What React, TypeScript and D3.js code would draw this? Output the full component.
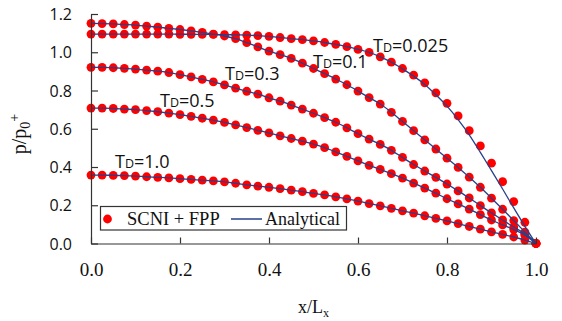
import React, { useEffect, useRef } from 'react';
import * as d3 from 'd3';

// x/Lx sample positions (every 0.025)
const xPos = [0, 0.025, 0.05, 0.075, 0.1, 0.125, 0.15, 0.175, 0.2, 0.225, 0.25, 0.275, 0.3, 0.325, 0.35, 0.375, 0.4, 0.425, 0.45, 0.475, 0.5, 0.525, 0.55, 0.575, 0.6, 0.625, 0.65, 0.675, 0.7, 0.725, 0.75, 0.775, 0.8, 0.825, 0.85, 0.875, 0.9, 0.925, 0.95, 0.975, 1.0];

// SCNI + FPP points, p/p0+
const td0025 = [1.095, 1.095, 1.095, 1.095, 1.095, 1.095, 1.095, 1.095, 1.094, 1.094, 1.093, 1.093, 1.092, 1.091, 1.090, 1.087, 1.083, 1.077, 1.071, 1.066, 1.059, 1.051, 1.041, 1.029, 1.015, 0.999, 0.976, 0.948, 0.915, 0.880, 0.840, 0.788, 0.733, 0.667, 0.590, 0.510, 0.420, 0.323, 0.219, 0.111, 0];
const td01 = [1.151, 1.150, 1.148, 1.145, 1.142, 1.137, 1.131, 1.125, 1.119, 1.112, 1.104, 1.095, 1.085, 1.071, 1.050, 1.028, 1.006, 0.988, 0.968, 0.943, 0.915, 0.888, 0.860, 0.830, 0.797, 0.763, 0.729, 0.686, 0.638, 0.590, 0.542, 0.494, 0.446, 0.398, 0.347, 0.294, 0.237, 0.179, 0.120, 0.060, 0];
const td03 = [0.921, 0.921, 0.919, 0.916, 0.912, 0.907, 0.901, 0.894, 0.883, 0.871, 0.858, 0.845, 0.829, 0.812, 0.796, 0.781, 0.762, 0.744, 0.724, 0.703, 0.681, 0.658, 0.634, 0.605, 0.574, 0.546, 0.518, 0.487, 0.450, 0.413, 0.379, 0.346, 0.311, 0.275, 0.238, 0.198, 0.160, 0.123, 0.086, 0.050, 0];
const td05 = [0.708, 0.708, 0.706, 0.703, 0.700, 0.695, 0.689, 0.682, 0.674, 0.665, 0.655, 0.645, 0.633, 0.620, 0.606, 0.592, 0.578, 0.563, 0.549, 0.535, 0.520, 0.501, 0.479, 0.456, 0.432, 0.409, 0.387, 0.365, 0.342, 0.316, 0.290, 0.263, 0.234, 0.207, 0.180, 0.151, 0.123, 0.097, 0.073, 0.044, 0];
const td1 = [0.358, 0.358, 0.356, 0.355, 0.352, 0.349, 0.346, 0.343, 0.339, 0.335, 0.331, 0.327, 0.322, 0.315, 0.307, 0.300, 0.294, 0.287, 0.279, 0.271, 0.262, 0.254, 0.244, 0.233, 0.222, 0.209, 0.197, 0.184, 0.171, 0.159, 0.145, 0.131, 0.118, 0.104, 0.089, 0.075, 0.061, 0.048, 0.034, 0.018, 0];

// analytical curve for TD=0.025 sits a little left of the points near the drained edge
const analytic0025 = [1.095, 1.095, 1.095, 1.095, 1.095, 1.095, 1.095, 1.095, 1.094, 1.094, 1.093, 1.093, 1.092, 1.091, 1.090, 1.087, 1.083, 1.077, 1.071, 1.066, 1.059, 1.051, 1.041, 1.029, 1.015, 0.999, 0.976, 0.948, 0.913, 0.875, 0.832, 0.778, 0.718, 0.648, 0.568, 0.476, 0.381, 0.285, 0.186, 0.090, 0];

const xTicks = [0, 0.2, 0.4, 0.6, 0.8, 1.0];
const yTicks = [0, 0.2, 0.4, 0.6, 0.8, 1.0, 1.2];

const curveLabels = ['0.025', '0.1', '0.3', '0.5', '1.0'];

const W = 562;
const H = 321;

const App: React.FC = () => {
  const svgRef = useRef<SVGSVGElement>(null);

  useEffect(() => {
    if (!svgRef.current) return;
    const svg = d3.select(svgRef.current);
    svg.selectAll('*').remove();

    const xScale = d3.scaleLinear().domain([0, 1]).range([91, 536]);
    const yScale = d3.scaleLinear().domain([0, 1.2]).range([243.5, 14]);

    const points = [td0025, td01, td03, td05, td1];
    const lines = [analytic0025, td01, td03, td05, td1];

    // SCNI + FPP dots
    points.forEach((vals) => {
      svg.append('g')
        .selectAll('circle')
        .data(vals)
        .enter()
        .append('circle')
        .attr('cx', (_, i) => xScale(xPos[i]))
        .attr('cy', d => yScale(d))
        .attr('r', 4.4)
        .attr('fill', '#ff0000');
    });

    // Analytical lines
    const line = d3.line<number>()
      .x((_, i) => xScale(xPos[i]))
      .y(d => yScale(d))
      .curve(d3.curveMonotoneX);

    lines.forEach((vals) => {
      svg.append('path')
        .datum(vals)
        .attr('fill', 'none')
        .attr('stroke', '#26408b')
        .attr('stroke-width', 1.3)
        .attr('d', line);
    });

    // Axes
    const xAxis = svg.append('g')
      .attr('transform', 'translate(0, 243.5)')
      .call(d3.axisBottom(xScale).tickValues(xTicks).tickFormat(d3.format('.1f')).tickSizeInner(-6).tickSizeOuter(0));
    xAxis.select('.domain').attr('stroke', '#333').attr('stroke-width', 1.2);
    xAxis.selectAll('.tick line').attr('stroke', '#333').attr('stroke-width', 1.2);
    xAxis.selectAll('.tick text')
      .attr('y', 32)
      .attr('dy', 0)
      .attr('fill', '#111')
      .style('font-family', '"Liberation Serif", serif')
      .style('font-size', '19px');

    const yAxis = svg.append('g')
      .attr('transform', 'translate(91, 0)')
      .call(d3.axisLeft(yScale).tickValues(yTicks).tickFormat(d3.format('.1f')).tickSizeInner(-7).tickSizeOuter(0));
    yAxis.select('.domain').attr('stroke', '#333').attr('stroke-width', 1.2);
    yAxis.selectAll('.tick line').attr('stroke', '#333').attr('stroke-width', 1.2);
    yAxis.selectAll('.tick text')
      .attr('x', -19)
      .attr('dy', '0.35em')
      .attr('fill', '#111')
      .style('font-family', '"Open Sans", sans-serif')
      .style('font-size', '16px');

    // Axis titles
    const xt = svg.append('text')
      .attr('x', 298)
      .attr('y', 313)
      .attr('fill', '#111')
      .style('font-family', '"Liberation Serif", serif')
      .style('font-size', '18px');
    xt.append('tspan').text('x/L');
    xt.append('tspan').attr('dy', 4).style('font-size', '12px').text('x');

    const yt = svg.append('text')
      .attr('transform', 'translate(26, 134) rotate(-90)')
      .attr('text-anchor', 'middle')
      .attr('fill', '#111')
      .style('font-family', '"Liberation Serif", serif')
      .style('font-size', '20px');
    yt.append('tspan').text('p/p');
    yt.append('tspan').attr('dy', 4).style('font-size', '14px').text('0');
    yt.append('tspan').attr('dy', -11).style('font-size', '14px').text('+');

    // T_D labels
    const labelPos = [[373, 52], [313, 68], [225, 80], [160, 106.5], [115, 168]];
    curveLabels.forEach((lab, i) => {
      const t = svg.append('text')
        .attr('x', labelPos[i][0])
        .attr('y', labelPos[i][1])
        .attr('fill', '#111')
        .style('font-family', '"Open Sans", sans-serif')
        .style('font-size', '18px');
      t.append('tspan').text('T');
      t.append('tspan').style('font-size', '12.5px').text('D');
      t.append('tspan').text('=' + lab);
    });

    // Legend
    const legend = svg.append('g');
    legend.append('rect')
      .attr('x', 100.5)
      .attr('y', 206.5)
      .attr('width', 246)
      .attr('height', 23.5)
      .attr('fill', '#fff')
      .attr('stroke', '#333')
      .attr('stroke-width', 1.2);
    legend.append('circle')
      .attr('cx', 107.5)
      .attr('cy', 219)
      .attr('r', 4.4)
      .attr('fill', '#ff0000');
    legend.append('text')
      .attr('x', 127)
      .attr('y', 224.5)
      .attr('fill', '#111')
      .style('font-family', '"Liberation Serif", serif')
      .style('font-size', '18.5px')
      .text('SCNI + FPP');
    legend.append('line')
      .attr('x1', 231)
      .attr('x2', 262)
      .attr('y1', 219)
      .attr('y2', 219)
      .attr('stroke', '#26408b')
      .attr('stroke-width', 1.5);
    legend.append('text')
      .attr('x', 265)
      .attr('y', 224.5)
      .attr('fill', '#111')
      .style('font-family', '"Liberation Serif", serif')
      .style('font-size', '18px')
      .text('Analytical');
  }, []);

  return (
    <svg
      ref={svgRef}
      width={W}
      height={H}
      style={{ position: 'absolute', left: 0, top: 0, background: '#fff' }}
    />
  );
};

export default App;
